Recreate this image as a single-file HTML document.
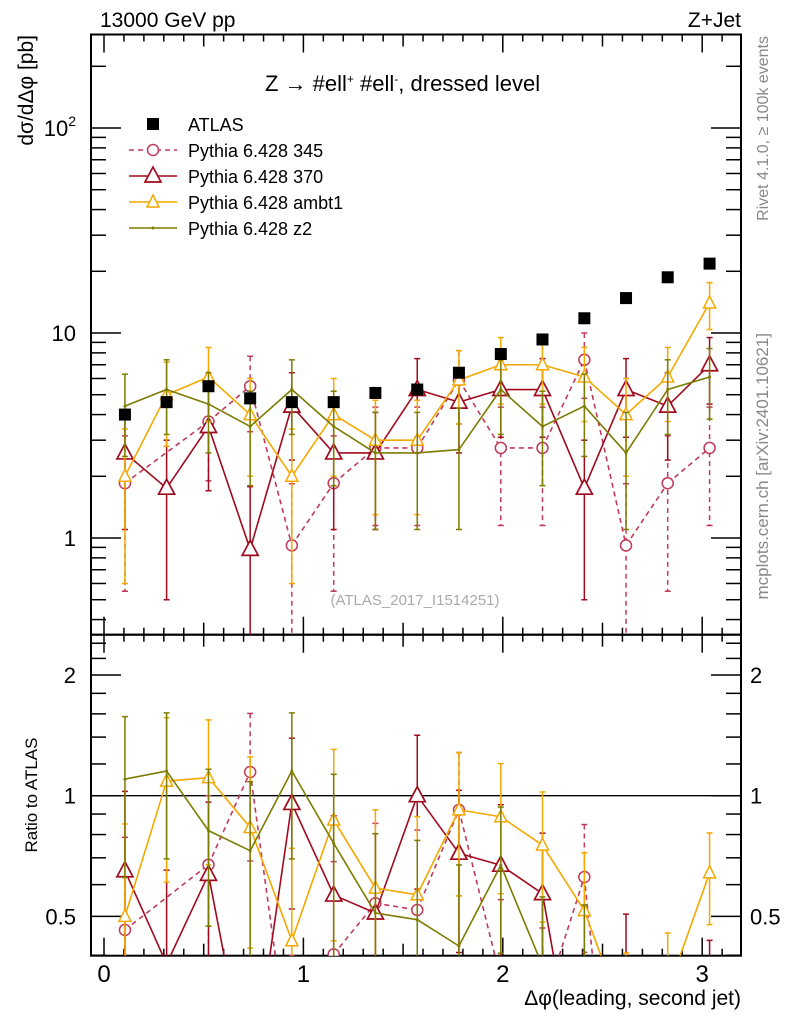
<!DOCTYPE html>
<html><head><meta charset="utf-8"><style>
html,body{margin:0;padding:0;background:#fff;width:786px;height:1024px;overflow:hidden}
svg{display:block;font-family:"Liberation Sans",sans-serif;overflow:hidden}
</style></head><body>
<svg id="c" width="786" height="1024" viewBox="0 0 786 1024"></svg>
<script>
const centers=[0.105,0.314,0.524,0.733,0.942,1.152,1.361,1.571,1.780,1.990,2.199,2.409,2.618,2.827,3.037];
const atlas=[4.0,4.6,5.5,4.8,4.6,4.6,5.1,5.3,6.4,7.9,9.3,11.8,14.8,18.7,21.8];
const p345=[1.85,null,3.7,5.5,0.92,1.85,2.75,2.75,5.9,2.75,2.75,7.4,0.92,1.85,2.75];
const p345err=[1.3,null,1.8,2.2,0.92,1.3,1.6,1.6,2.3,1.6,1.6,2.6,0.92,1.3,1.6];
const p370=[2.6,1.75,3.5,0.88,4.4,2.6,2.6,5.3,4.6,5.3,5.3,1.75,5.3,4.4,7.0];
const p370err=[1.5,1.25,1.8,0.9,2.0,1.5,1.5,2.2,2.0,2.2,2.2,1.25,2.2,2.0,2.5];
const pambt1=[2.0,5.0,6.1,4.0,2.0,4.0,3.0,3.0,5.9,7.0,7.0,6.1,4.0,6.1,14.0];
const pambt1err=[1.4,2.2,2.4,2.0,1.4,2.0,1.7,1.7,2.3,2.5,2.5,2.4,2.0,2.4,3.6];
const pz2=[4.4,5.3,4.5,3.5,5.3,3.5,2.6,2.6,2.7,5.3,3.5,4.4,2.6,5.3,6.1];
const pz2err=[1.9,2.1,1.9,1.7,2.1,1.7,1.5,1.5,1.6,2.1,1.7,1.9,1.5,2.1,2.3];
const xTicks=[0,1,2,3];
const mainTicks=[1,10,100];
const ratioTicks=[0.5,1,2];

const L=91,R=741,T=34.5,M=634.7,B=955.7;
const X=v=>104+199.4*v;
const YM=v=>538-205*Math.log10(v);
const YR=v=>795.7-120.7*Math.log2(v);
const svg=document.getElementById('c');
const NS='http://www.w3.org/2000/svg';
function el(tag,attrs,parent){const e=document.createElementNS(NS,tag);for(const k in attrs)e.setAttribute(k,attrs[k]);(parent||svg).appendChild(e);return e;}
const defs=el('defs',{});
function clip(id,y1,y2){const d=el('clipPath',{id:id},defs);el('rect',{x:L,y:y1,width:R-L,height:y2-y1},d);}
clip('cm',T,M);clip('cr',M,B);

let f=el('rect',{x:L,y:T,width:R-L,height:M-T,fill:'none',stroke:'#000','stroke-width':2});

f=el('rect',{x:L,y:M,width:R-L,height:B-M,fill:'none',stroke:'#000','stroke-width':2});


for(let i=0;i<=31;i++){const v=i/10,x=X(v);if(x>R)break;const len=(i%10==0)?18:(i%5==0?12:7);
 for(const yb of [M,B]){el('line',{x1:x,y1:yb,x2:x,y2:yb-len,stroke:'#000','stroke-width':1.5});}
 for(const yt of [T,M]){el('line',{x1:x,y1:yt,x2:x,y2:yt+len,stroke:'#000','stroke-width':1.5});}}
xTicks.forEach(v=>{const t=el('text',{x:X(v),y:982,'font-size':24,'text-anchor':'middle'});t.textContent=v;
 });

for(let d=0.1;d<=100;d*=10){for(let k=1;k<=9;k++){const v=d*k,y=YM(v);if(y<T||y>M)continue;const len=k==1?30:15;
 el('line',{x1:L,y1:y,x2:L+len,y2:y,stroke:'#000','stroke-width':1.5});el('line',{x1:R,y1:y,x2:R-len,y2:y,stroke:'#000','stroke-width':1.5});}}
mainTicks.forEach(v=>{const t=el('text',{x:76,y:YM(v)+8,'font-size':22,'text-anchor':'end'});
 if(v==100){t.innerHTML='10<tspan font-size="14" dy="-10">2</tspan>';}else t.textContent=v;
 });

[0.4,0.5,0.6,0.7,0.8,0.9,1,1.2,1.4,1.6,1.8,2,2.2,2.4].forEach(v=>{const y=YR(v);if(y<M||y>B)return;const len=(v==0.5||v==1||v==2)?30:15;
 el('line',{x1:L,y1:y,x2:L+len,y2:y,stroke:'#000','stroke-width':1.5});el('line',{x1:R,y1:y,x2:R-len,y2:y,stroke:'#000','stroke-width':1.5});});
ratioTicks.forEach(v=>{for(const [x,a] of [[76,'end'],[750,'start']]){const t=el('text',{x:x,y:YR(v)+8,'font-size':22,'text-anchor':a});t.textContent=v;
 }});
el('line',{x1:L,y1:YR(1),x2:R,y2:YR(1),stroke:'#000','stroke-width':1.3});

const gm=el('g',{'clip-path':'url(#cm)'}),gr=el('g',{'clip-path':'url(#cr)'});
const series=[
 {name:'pythia-345',v:p345,e:p345err,c:'#c03a5a',dash:'5,4',m:'circle'},
 {name:'pythia-370',v:p370,e:p370err,c:'#a00a1e',dash:null,m:'tri'},
 {name:'pythia-ambt1',v:pambt1,e:pambt1err,c:'#f5a800',dash:null,m:'tri-s'},
 {name:'pythia-z2',v:pz2,e:pz2err,c:'#7c7c00',dash:null,m:'dot'}];
function marker(g,m,x,y,c){
 if(m=='circle')el('circle',{cx:x,cy:y,r:5.5,fill:'#fff',stroke:c,'stroke-width':1.5},g);
 else if(m=='tri')el('polygon',{points:`${x},${y-9} ${x-8},${y+6} ${x+8},${y+6}`,fill:'#fff',stroke:c,'stroke-width':1.7},g);
 else if(m=='tri-s')el('polygon',{points:`${x},${y-7} ${x-6},${y+5} ${x+6},${y+5}`,fill:'#fff',stroke:c,'stroke-width':1.5},g);
 else el('circle',{cx:x,cy:y,r:1.5,fill:c},g);}
function clipSeg(x1,y1,x2,y2,lo,hi){
 let t0=0,t1=1;const dy=y2-y1;
 const chk=(p,q)=>{if(p==0)return q>=0;const r=q/p;if(p<0){if(r>t1)return false;if(r>t0)t0=r;}else{if(r<t0)return false;if(r<t1)t1=r;}return true;};
 if(!chk(-dy,y1-lo))return null;if(!chk(dy,hi-y1))return null;
 return [x1+(x2-x1)*t0,y1+dy*t0,x1+(x2-x1)*t1,y1+dy*t1];}
function draw(g,Y,vals,errs,s,top,bot){
 const sg=el('g',{},g);
 const pts=[];vals.forEach((v,i)=>{if(v!=null&&v>0)pts.push([X(centers[i]),Y(v)]);});
 let d='';
 for(let k=0;k+1<pts.length;k++){const c=clipSeg(pts[k][0],pts[k][1],pts[k+1][0],pts[k+1][1],top,bot);
  if(c)d+=`M${c[0].toFixed(2)},${c[1].toFixed(2)}L${c[2].toFixed(2)},${c[3].toFixed(2)}`;}
 if(d)el('path',{d:d,fill:'none',stroke:s.c,'stroke-width':1.6,'stroke-dasharray':s.dash||'none'},sg);
 vals.forEach((v,i)=>{if(v==null||v<=0)return;const x=X(centers[i]);const e=errs[i];
  let y1=Y(v+e),y2=(v-e)>1e-3?Y(v-e):bot;
  const y1c=Math.max(top,Math.min(bot,y1)),y2c=Math.max(top,Math.min(bot,y2));
  if(y2c>y1c)el('line',{x1:x,y1:y1c,x2:x,y2:y2c,stroke:s.c,'stroke-width':1.5,'stroke-dasharray':s.dash||'none'},sg);
  if(y1>=top&&y1<=bot)el('line',{x1:x-3,y1:y1,x2:x+3,y2:y1,stroke:s.c,'stroke-width':1.5},sg);
  if((v-e)>1e-3&&y2>=top&&y2<=bot)el('line',{x1:x-3,y1:y2,x2:x+3,y2:y2,stroke:s.c,'stroke-width':1.5},sg);
  const ym=Y(v);if(ym<top-2||ym>bot+2)return;
  const mk=el('g',{},sg);
  marker(mk,s.m,x,ym,s.c);});}
series.forEach(s=>{
 draw(gm,YM,s.v,s.e,s,T,M);
 const rv=s.v.map((v,i)=>v==null?null:v/atlas[i]);
 const re=s.e.map((e,i)=>e==null?null:e/atlas[i]);
 draw(gr,YR,rv,re,s,M,B);});
atlas.forEach((v,i)=>{const r=el('rect',{x:X(centers[i])-6,y:YM(v)-6,width:12,height:12,fill:'#000'},gm);
 });

const lg=el('g',{});
const lrows=[['ATLAS',null],['Pythia 6.428 345',series[0]],['Pythia 6.428 370',series[1]],['Pythia 6.428 ambt1',series[2]],['Pythia 6.428 z2',series[3]]];
lrows.forEach((r,i)=>{const y=124+26*i;const eg=el('g',{},lg);
 if(!r[1])el('rect',{x:147,y:y-6,width:12,height:12,fill:'#000'},eg);
 else{el('line',{x1:129,y1:y,x2:177,y2:y,stroke:r[1].c,'stroke-width':1.6,'stroke-dasharray':r[1].dash||'none'},eg);marker(eg,r[1].m,153,y,r[1].c);}
 const t=el('text',{x:188,y:y+7,'font-size':18},eg);t.textContent=r[0];});

function txt(s,a,name){const t=el('text',a);t.textContent=s;return t;}
txt('13000 GeV pp',{x:100,y:27,'font-size':21},'energy-label');
txt('Z+Jet',{x:741,y:27,'font-size':21,'text-anchor':'end'},'process-label');
const ti=txt('',{x:265,y:91,'font-size':22},'plot-title');ti.innerHTML='Z → #ell<tspan font-size="12" dy="-8">+</tspan><tspan dy="8"> #ell</tspan><tspan font-size="12" dy="-8">-</tspan><tspan dy="8">, dressed level</tspan>';
txt('dσ/dΔφ [pb]',{x:0,y:0,'font-size':21,'text-anchor':'end',transform:'translate(33,35) rotate(-90)'},'y-axis-title');
txt('Ratio to ATLAS',{x:0,y:0,'font-size':17,'text-anchor':'middle',transform:'translate(37,795) rotate(-90)'},'ratio-axis-title');
txt('Δφ(leading, second jet)',{x:741,y:1005,'font-size':21,'text-anchor':'end'},'x-axis-title');
txt('(ATLAS_2017_I1514251)',{x:415,y:605,'font-size':15,'text-anchor':'middle',fill:'#aaa'},'analysis-id');
txt('Rivet 4.1.0, ≥ 100k events',{x:0,y:0,'font-size':16,'text-anchor':'end',fill:'#888',transform:'translate(768,36) rotate(-90)'},'rivet-label');
txt('mcplots.cern.ch [arXiv:2401.10621]',{x:0,y:0,'font-size':17,'text-anchor':'end',fill:'#888',transform:'translate(768,333) rotate(-90)'},'mcplots-label');
</script>
</body></html>
